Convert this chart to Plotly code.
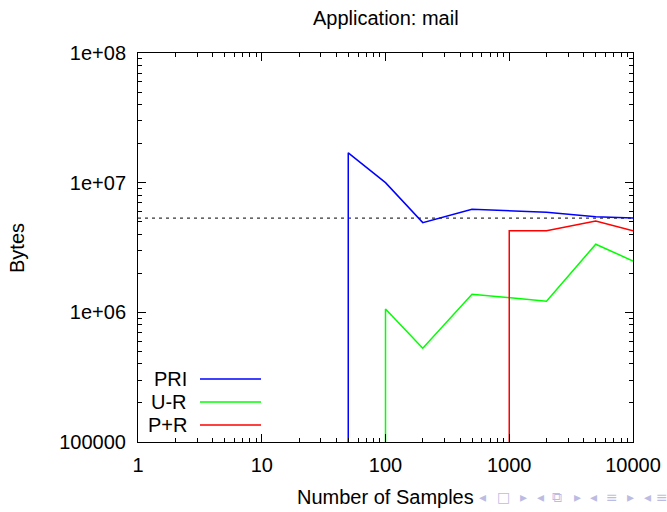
import plotly.graph_objects as go

# ---- data ----
series_names = ["PRI", "U-R", "P+R"]
series_colors = ["#0000ff", "#00ff00", "#ff0000"]

pri_samples = [50, 100, 200, 500, 2000, 5000, 10000]
pri_bytes = [1.70e7, 1.0e7, 4.92e6, 6.24e6, 5.92e6, 5.47e6, 5.35e6]

ur_samples = [100, 200, 500, 2000, 5000, 10000]
ur_bytes = [1.06e6, 5.29e5, 1.38e6, 1.22e6, 3.35e6, 2.49e6]

pr_samples = [1000, 2000, 5000, 10000]
pr_bytes = [4.25e6, 4.25e6, 5.07e6, 4.25e6]

# reference level (dashed)
ref_level = 5.33e6
ref_span = [1, 10000]

# value used for samples that were zero (below the log axis)
below_floor = 1.0

x_tickvals = [1, 10, 100, 1000, 10000]
x_ticktext = ["1", "10", "100", "1000", "10000"]
y_tickvals = [1e5, 1e6, 1e7, 1e8]
y_ticktext = ["100000", "1e+06", "1e+07", "1e+08"]

# beamer navigation symbols shown under the chart
nav_glyphs = ["◂", "□", "▸", "◂", "⧉", "▸", "◂", "≡", "▸", "◂", "≡"]
nav_pos = [482, 503, 523, 540, 557, 577, 593, 612, 630, 647, 662]

FONT = "Liberation Sans, Arial, sans-serif"

fig = go.Figure()

# dashed reference line
fig.add_trace(go.Scatter(x=ref_span, y=[ref_level, ref_level], mode="lines",
                         line=dict(color="black", width=1, dash="3px,4px"),
                         showlegend=False, hoverinfo="skip"))

all_series = [(pri_samples, pri_bytes), (ur_samples, ur_bytes), (pr_samples, pr_bytes)]
for (xs, ys), name, col in zip(all_series, series_names, series_colors):
    # rise from zero (off the log axis) at the first sample
    fig.add_trace(go.Scatter(x=[xs[0]] + xs, y=[below_floor] + ys, mode="lines",
                             name=name, line=dict(color=col, width=1.5),
                             showlegend=False))

# plot area in page pixels
L, R, T, B = 138, 633, 53, 442
W, H = 667, 512
pw, ph = R - L, B - T

def px(xp):
    return (xp - L) / pw

def py(yp):
    return (B - yp) / ph

annotations = [
    dict(text="Application: mail", x=0.5, y=py(18), xref="paper", yref="paper",
         showarrow=False, font=dict(size=20, family=FONT, color="black"),
         xanchor="center", yanchor="middle"),
    dict(text="Number of Samples", x=0.5, y=py(497), xref="paper", yref="paper",
         showarrow=False, font=dict(size=20, family=FONT, color="black"),
         xanchor="center", yanchor="middle"),
    dict(text="Bytes", x=px(17), y=py(248), xref="paper", yref="paper",
         showarrow=False, textangle=-90, font=dict(size=20, family=FONT, color="black"),
         xanchor="center", yanchor="middle"),
]
for g, xp in zip(nav_glyphs, nav_pos):
    annotations.append(dict(text=g, x=px(xp), y=py(497), xref="paper", yref="paper",
                            showarrow=False, xanchor="center", yanchor="middle",
                            font=dict(size=14, family="DejaVu Sans", color="#bcbce2")))

shapes = []
legend_rows = [379, 402, 425]
for name, col, ry in zip(series_names, series_colors, legend_rows):
    annotations.append(dict(text=name, x=px(189), y=py(ry), xref="paper", yref="paper",
                            showarrow=False, xanchor="right", yanchor="middle",
                            font=dict(size=20, family=FONT, color="black")))
    shapes.append(dict(type="line", xref="paper", yref="paper",
                       x0=px(200), x1=px(261), y0=py(ry), y1=py(ry),
                       line=dict(color=col, width=1.5)))

axis_common = dict(
    showline=True, linecolor="black", linewidth=1, mirror="allticks",
    ticks="inside", ticklen=8, tickwidth=1, tickcolor="black",
    showgrid=False, zeroline=False, automargin=False,
    tickfont=dict(size=20, family=FONT, color="black"),
    minor=dict(ticks="inside", ticklen=4, tickwidth=1, tickcolor="black",
               dtick="D1", showgrid=False),
)

fig.update_layout(
    width=W, height=H,
    margin=dict(l=L, r=W - R, t=T, b=H - B, pad=0, autoexpand=False),
    paper_bgcolor="white", plot_bgcolor="white",
    showlegend=False,
    annotations=annotations,
    shapes=shapes,
    xaxis=dict(type="log", range=[0, 4], tickvals=x_tickvals, ticktext=x_ticktext,
               ticklabelstandoff=5, **axis_common),
    yaxis=dict(type="log", range=[5, 8], tickvals=y_tickvals, ticktext=y_ticktext,
               ticklabelstandoff=7, **axis_common),
)

fig.write_html(
    "out.html",
    config={"displayModeBar": False},
    post_script="document.body.style.margin='0';document.body.style.overflow='hidden';",
)
